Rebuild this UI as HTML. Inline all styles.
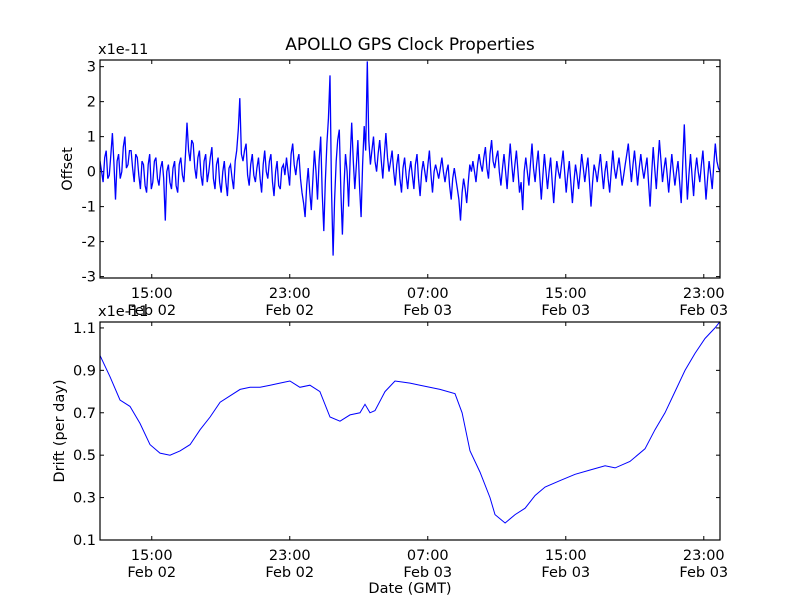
<!DOCTYPE html>
<html><head><meta charset="utf-8"><style>
html,body{margin:0;padding:0;background:#fff}
svg{display:block;font-family:"DejaVu Sans","Liberation Sans",sans-serif}
</style></head><body>
<svg id="c" width="800" height="600" viewBox="0 0 800 600" xmlns="http://www.w3.org/2000/svg">
<rect width="800" height="600" fill="#fff"/>
<text x="410" y="50" font-size="17" text-anchor="middle">APOLLO GPS Clock Properties</text>
<g id="g"></g>
</svg>
<script>
const xTickHours=[3,11,19,27,35];
const xTickTimes=["15:00","23:00","07:00","15:00","23:00"];
const xTickDates=["Feb 02","Feb 02","Feb 03","Feb 03","Feb 03"];
const offsetTicks=[3,2,1,0,-1,-2,-3];
const driftTicks=[1.1,0.9,0.7,0.5,0.3,0.1];
const offsetValues=[
0.3,0.0,-0.3,0.4,0.6,-0.2,-0.1,0.5,1.1,0.2,-0.8,0.3,0.5,-0.2,0.0,0.7,1.0,0.1,0.2,0.6,
0.6,0.1,-0.3,0.5,0.4,-0.1,-0.5,0.3,0.2,-0.4,-0.6,0.2,0.5,-0.5,-0.3,0.3,0.4,-0.2,-0.4,0.1,
0.3,-0.2,-1.4,0.0,0.2,-0.3,-0.5,0.1,0.3,-0.4,-0.6,0.2,0.4,-0.1,-0.3,0.5,1.4,0.6,0.3,0.9,
0.8,0.1,-0.2,0.4,0.6,-0.1,-0.4,0.3,0.5,-0.3,0.0,0.4,0.7,-0.2,-0.5,0.2,0.4,-0.3,-0.6,0.0,
0.3,-0.3,-0.7,0.1,0.2,-0.2,-0.5,0.3,0.6,1.2,2.1,0.5,0.3,0.6,0.8,-0.1,-0.4,0.2,0.5,-0.1,
-0.3,0.1,0.4,-0.2,-0.6,0.2,0.6,0.0,-0.2,0.3,0.5,-0.3,-0.7,0.0,0.3,-0.4,-0.5,0.1,0.2,-0.1,
0.4,0.0,-0.4,0.5,0.8,0.2,-0.1,0.3,0.5,-0.2,-0.6,-0.9,-1.3,-0.4,0.1,-0.6,-1.1,-0.2,0.6,0.0,
-0.8,0.3,1.0,-0.6,-1.7,-0.3,0.8,1.5,2.75,-0.5,-2.4,-0.8,0.3,0.9,1.2,-0.6,-1.8,-0.4,0.5,0.0,
-1.0,0.4,1.4,0.3,-0.5,0.2,0.9,-0.4,-1.3,0.2,1.3,0.6,3.15,0.9,0.2,0.6,1.0,0.3,0.0,0.5,
0.9,0.3,-0.2,0.5,1.1,0.4,0.0,0.3,0.6,0.0,-0.4,0.2,0.5,-0.2,-0.6,0.1,0.4,-0.1,-0.5,0.0,
0.3,-0.1,-0.5,0.2,0.5,-0.2,-0.7,0.0,0.3,0.0,-0.3,0.2,0.6,-0.1,-0.6,0.0,0.2,0.0,-0.2,0.1,
0.4,0.0,-0.3,0.0,0.2,-0.4,-0.8,-0.2,0.1,-0.2,-0.5,-0.8,-1.4,-0.6,-0.2,-0.5,-0.9,-0.3,0.2,0.0,
0.3,0.0,-0.3,0.2,0.5,0.2,0.0,0.4,0.7,0.1,-0.2,0.5,0.9,0.3,0.1,0.4,0.6,0.0,-0.4,0.1,
0.5,0.0,-0.5,0.2,0.8,0.2,-0.3,0.2,0.6,0.0,-0.6,-0.3,-1.1,0.0,0.4,0.0,-0.4,0.2,0.8,0.1,
-0.3,0.2,0.6,-0.1,-0.8,-0.1,0.5,0.0,-0.5,0.0,0.4,-0.3,-0.9,-0.2,0.3,0.0,-0.2,0.2,0.6,0.0,
-0.6,-0.1,0.3,-0.3,-0.9,-0.3,0.2,-0.1,-0.5,0.0,0.5,0.1,-0.3,0.1,0.4,-0.3,-1.0,-0.3,0.2,0.0,
-0.3,0.1,0.5,0.0,-0.5,0.0,0.3,-0.2,-0.6,0.0,0.6,0.1,-0.2,0.1,0.4,0.0,-0.4,-0.1,0.2,0.5,
0.8,0.2,-0.3,0.2,0.6,0.1,-0.4,0.1,0.5,0.1,-0.2,0.1,0.4,-0.3,-1.0,-0.1,0.7,0.1,-0.5,0.2,
0.9,0.3,-0.3,0.1,0.4,-0.1,-0.6,0.0,0.5,0.0,-0.4,0.0,0.3,-0.3,-0.9,0.2,1.35,0.2,-0.8,-0.1,
0.5,-0.1,-0.7,0.0,0.4,0.0,-0.3,0.2,0.6,-0.1,-0.8,-0.2,0.3,-0.1,-0.5,0.2,0.8,0.3,0.1,0.0];
const driftHours=[0,0.58,1.16,1.74,2.32,2.90,3.48,4.06,4.64,5.22,5.80,6.38,6.96,7.54,8.12,8.70,9.28,9.86,10.43,11.01,11.59,12.17,12.75,13.33,13.91,14.49,15.07,15.36,15.65,15.94,16.52,17.10,17.97,18.55,19.71,20.58,20.99,21.45,22.03,22.61,22.90,23.48,24.06,24.64,25.22,25.80,26.67,27.54,28.41,29.28,29.86,30.72,31.59,32.17,32.75,33.33,33.91,34.49,35.07,35.65,35.94];
const driftValues=[0.97,0.87,0.76,0.73,0.65,0.55,0.51,0.50,0.52,0.55,0.62,0.68,0.75,0.78,0.81,0.82,0.82,0.83,0.84,0.85,0.82,0.83,0.80,0.68,0.66,0.69,0.70,0.74,0.70,0.71,0.80,0.85,0.84,0.83,0.81,0.79,0.70,0.52,0.42,0.30,0.22,0.18,0.22,0.25,0.31,0.35,0.38,0.41,0.43,0.45,0.44,0.47,0.53,0.62,0.70,0.80,0.90,0.98,1.05,1.10,1.13];

const NS="http://www.w3.org/2000/svg";
const G=document.getElementById('g');
const L=100,R=720,HMAX=35.94;
const FS=14.5;
const xs=h=>L+(R-L)*h/HMAX;
function mk(tag,at,parent){const e=document.createElementNS(NS,tag);for(const k in at)e.setAttribute(k,at[k]);(parent||G).appendChild(e);return e;}
function panel(top,bot,ymin,ymax,ticks,fmt,label,pfx){
  const ys=v=>bot-(bot-top)*(v-ymin)/(ymax-ymin);
  const grp=mk('g',{});
  
  
  ticks.forEach(t=>{
    const y=ys(t);
    const a=mk('line',{x1:L,x2:L+4,y1:y,y2:y,stroke:'#000'},grp);
    
    
    mk('line',{x1:R-4,x2:R,y1:y,y2:y,stroke:'#000'},grp);
    const tx=mk('text',{x:L-4,y:y+5,'font-size':FS,'text-anchor':'end'},grp);
    tx.textContent=fmt(t);
    
    
  });
  xTickHours.forEach((h,i)=>{
    const x=xs(h);
    const a=mk('line',{x1:x,x2:x,y1:bot,y2:bot-4,stroke:'#000'},grp);
    
    
    mk('line',{x1:x,x2:x,y1:top,y2:top+4,stroke:'#000'},grp);
    const t1=mk('text',{x:x,y:bot+20,'font-size':FS,'text-anchor':'middle'},grp);
    t1.textContent=xTickTimes[i];
    
    
    const t2=mk('text',{x:x,y:bot+37,'font-size':FS,'text-anchor':'middle'},grp);
    t2.textContent=xTickDates[i];
    
    
  });
  const yl=mk('text',{x:0,y:0,'font-size':FS,'text-anchor':'middle',transform:`translate(${pfx==='offset'?72:64},${(top+bot)/2}) rotate(-90)`},grp);
  yl.textContent=label;
  
  
  const sc=mk('text',{x:L-2,y:top-6,'font-size':FS},grp);
  sc.textContent='x1e-11';
  
  
  return {ys,grp};
}
const p1=panel(60,278,-3.04,3.19,offsetTicks,v=>String(v),'Offset','offset');
let d='';
offsetValues.forEach((v,i)=>{const h=i*HMAX/(offsetValues.length-1);d+=(i?'L':'M')+xs(h).toFixed(1)+' '+p1.ys(v).toFixed(1);});
const cp1=mk('clipPath',{id:'cp1'});mk('rect',{x:L,y:60,width:R-L,height:218},cp1);
const l1=mk('path',{d:d,fill:'none',stroke:'#0000ff','stroke-width':1.3,'clip-path':'url(#cp1)'});


const f1=mk('rect',{x:L,y:60,width:R-L,height:218,fill:'none',stroke:'#000','stroke-width':1.2});


const p2=panel(322,540,0.1,1.128,driftTicks,v=>v.toFixed(1),'Drift (per day)','drift');
d='';
driftHours.forEach((h,i)=>{d+=(i?'L':'M')+xs(h).toFixed(1)+' '+p2.ys(driftValues[i]).toFixed(1);});
const cp2=mk('clipPath',{id:'cp2'});mk('rect',{x:L,y:322,width:R-L,height:218},cp2);
const l2=mk('path',{d:d,fill:'none',stroke:'#0000ff','stroke-width':1,'clip-path':'url(#cp2)'});


const f2=mk('rect',{x:L,y:322,width:R-L,height:218,fill:'none',stroke:'#000','stroke-width':1.2});


const xt=mk('text',{x:410,y:593,'font-size':FS,'text-anchor':'middle'});
xt.textContent='Date (GMT)';


</script>
</body></html>
